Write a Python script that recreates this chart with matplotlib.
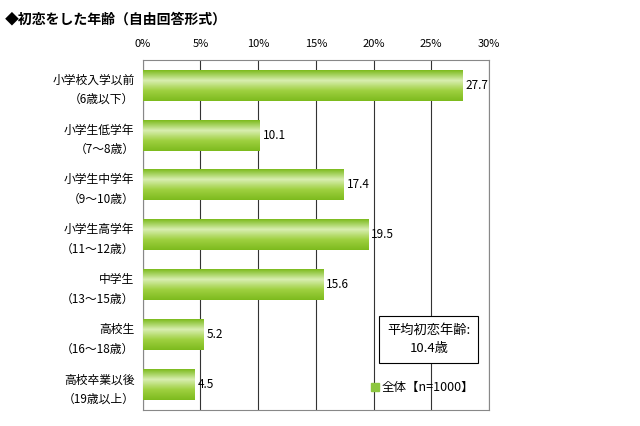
import matplotlib
matplotlib.use('agg')
import matplotlib.pyplot as plt
import numpy as np
from matplotlib.colors import LinearSegmentedColormap

plt.rcParams['font.family'] = 'Noto Sans CJK JP'

# Data
categories = ['小学校入学以前\n（6歳以下）', '小学生低学年\n（7～8歳）', '小学生中学年\n（9～10歳）',
              '小学生高学年\n（11～12歳）', '中学生\n（13～15歳）', '高校生\n（16～18歳）',
              '高校卒業以後\n（19歳以上）']
values = [27.7, 10.1, 17.4, 19.5, 15.6, 5.2, 4.5]
tick_values = [0, 5, 10, 15, 20, 25, 30]
tick_labels = ['0%', '5%', '10%', '15%', '20%', '25%', '30%']

fig = plt.figure(figsize=(6.4, 4.26), dpi=100)
ax = fig.add_axes([0.223, 0.038, 0.541, 0.821])

y = np.arange(len(values))
bars = ax.barh(y, values, height=0.62, color='#8cc63f', zorder=2)

# Gradient fill over each bar (dark edges, light middle)
cmap = LinearSegmentedColormap.from_list('g', ['#7dbb1e', '#d8eeb0', '#9fd040', '#7dbb1e'])
grad = np.linspace(0, 1, 64).reshape(-1, 1)
for b in bars:
    x0, y0 = b.get_x(), b.get_y()
    ax.imshow(grad, cmap=cmap, aspect='auto', zorder=3,
              extent=(x0, x0 + b.get_width(), y0 + b.get_height(), y0))

for yi, v in zip(y, values):
    ax.text(v + 0.3, yi, f'{v}', va='center', ha='left', fontsize=8.5, zorder=4)

ax.set_xlim(0, 30)
ax.set_ylim(len(values) - 0.5, -0.5)
ax.set_xticks(tick_values)
ax.set_xticklabels(tick_labels, fontsize=8)
ax.xaxis.tick_top()
ax.tick_params(axis='x', length=0, pad=8)
ax.set_yticks(y)
ax.set_yticklabels(categories, fontsize=8.5, linespacing=1.6)
ax.tick_params(axis='y', length=0, pad=6)
ax.grid(axis='x', color='#333333', linewidth=0.8, zorder=1)
for s in ax.spines.values():
    s.set_color('#888888')
    s.set_linewidth(0.8)

fig.text(0.008, 0.955, '◆初恋をした年齢（自由回答形式）', fontsize=10, fontweight='bold', va='center')

ax.text(24.8, 5.1, '平均初恋年齢:\n10.4歳', ha='center', va='center', fontsize=9.5,
        linespacing=1.5, zorder=5,
        bbox=dict(boxstyle='square,pad=0.6', facecolor='white', edgecolor='black', linewidth=0.8))
ax.plot([20.1], [6.05], marker='s', markersize=6, color='#8cc63f', zorder=5)
ax.text(20.7, 6.05, '全体【n=1000】', va='center', fontsize=9, zorder=5)

fig.savefig('out.png', dpi=100)
